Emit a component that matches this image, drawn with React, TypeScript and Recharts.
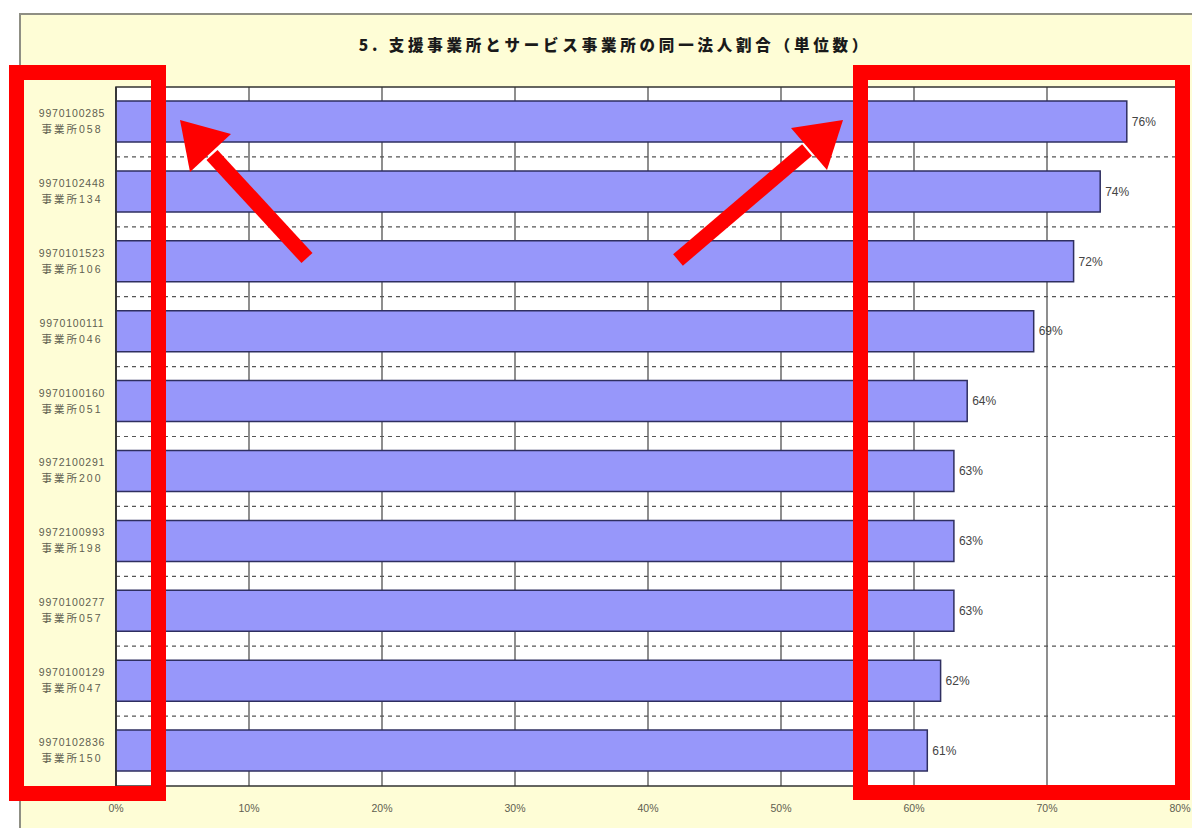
import { BarChart, Bar, XAxis, YAxis, CartesianGrid, LabelList, ReferenceArea } from 'recharts';

// office codes (first tick line) and office names (second tick line), top to bottom
const codes = [
  '9970100285', '9970102448', '9970101523', '9970100111', '9970100160',
  '9972100291', '9972100993', '9970100277', '9970100129', '9970102836',
];
const offices = [
  '事業所058', '事業所134', '事業所106', '事業所046', '事業所051',
  '事業所200', '事業所198', '事業所057', '事業所047', '事業所150',
];
// same-corporation share, %
const shares = [76, 74, 72, 69, 64, 63, 63, 63, 62, 61];
const xTicks = [0, 10, 20, 30, 40, 50, 60, 70, 80];

const data = codes.map((code, i) => ({ code, office: offices[i], share: shares[i] }));

const FONT = '"Liberation Sans", Arial, "Noto Sans CJK JP", sans-serif';

function OfficeTick(props: any) {
  const { x, y, payload } = props;
  const row = data.find(d => d.code === payload.value);
  return (
    <g fontFamily={FONT} fontSize={10.5} fill="#5f5f50">
      <text x={x - 44} y={y - 5} textAnchor="middle" letterSpacing={0.8}>{payload.value}</text>
      <text x={x - 44} y={y + 11} textAnchor="middle" letterSpacing={2}>{row ? row.office : ''}</text>
    </g>
  );
}

// red call-out boxes and arrows drawn over the screenshot
function Annotations() {
  return (
    <svg width={1192} height={828} style={{ position: 'absolute', left: 0, top: 0, pointerEvents: 'none' }}>
      <rect x={16.5} y={72.5} width={142} height={721} fill="none" stroke="#ff0000" strokeWidth={15} />
      <rect x={860.5} y={72.5} width={322} height={720} fill="none" stroke="#ff0000" strokeWidth={15} />
      <line x1={307} y1={258} x2={212} y2={155} stroke="#ff0000" strokeWidth={15} />
      <polygon points="180,120 231,134 190,172" fill="#ff0000" />
      <line x1={678} y1={260} x2={807} y2={150} stroke="#ff0000" strokeWidth={15} />
      <polygon points="843,120 827,170 791,128" fill="#ff0000" />
    </svg>
  );
}

export default function App() {
  return (
    <div style={{ position: 'absolute', left: 0, top: 0, width: 1192, height: 828, overflow: 'hidden', background: '#fff' }}>
      <div style={{
        position: 'absolute', left: 19, top: 13, width: 1200, height: 830,
        background: '#fefdd6', borderTop: '2px solid #8f8f84', borderLeft: '2px solid #8f8f84',
      }} />
      <div style={{
        position: 'absolute', left: 115, top: 33, width: 1000, textAlign: 'center',
        fontFamily: '"Noto Sans CJK JP", sans-serif', fontWeight: 900, fontSize: 15.5,
        letterSpacing: 3.8, color: '#1a1a1a',
      }}>
        5. 支援事業所とサービス事業所の同一法人割合（単位数）
      </div>
      <div style={{ position: 'absolute', left: 0, top: 0 }}>
        <BarChart
          width={1192}
          height={828}
          data={data}
          layout="vertical"
          margin={{ top: 87, right: 12, bottom: 12, left: 20 }}
        >
          <CartesianGrid horizontal={false} vertical stroke="#444" strokeWidth={1.2} fill="#ffffff" fillOpacity={1} />
          <CartesianGrid
            vertical={false}
            stroke="#555"
            strokeWidth={1.2}
            strokeDasharray="4 4"
            horizontalCoordinatesGenerator={({ offset }: any) => {
              const band = offset.height / data.length;
              return data.slice(1).map((_, i) => offset.top + band * (i + 1));
            }}
          />
          <ReferenceArea x1={0} x2={80} fill="none" stroke="#333" strokeWidth={1.5} ifOverflow="visible" />
          <XAxis
            type="number"
            domain={[0, 80]}
            ticks={xTicks}
            tickFormatter={(v: number) => `${v}%`}
            axisLine={false}
            tickLine={false}
            tickSize={0}
            tickMargin={19}
            height={30}
            tick={{ fontSize: 10.5, fill: '#5f5f50', fontFamily: FONT }}
          />
          <YAxis
            type="category"
            dataKey="code"
            width={96}
            tickLine={false}
            tickSize={0}
            tickMargin={0}
            axisLine={{ stroke: '#333', strokeWidth: 1.5 }}
            tick={<OfficeTick />}
            interval={0}
          />
          <Bar dataKey="share" barSize={41} fill="#9797fa" stroke="#2f2f60" strokeWidth={1.5} isAnimationActive={false}>
            <LabelList
              dataKey="share"
              position="right"
              offset={5}
              formatter={(v: any) => `${v}%`}
              style={{ fontSize: 12, fill: '#444', fontFamily: FONT }}
            />
          </Bar>
        </BarChart>
      </div>
      <Annotations />
    </div>
  );
}
